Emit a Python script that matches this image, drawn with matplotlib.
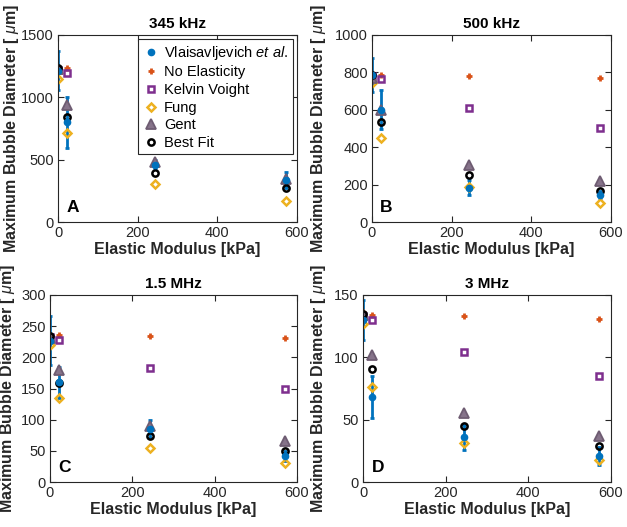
#!/usr/bin/env python3
import numpy as np
import matplotlib
matplotlib.use('Agg')
import matplotlib.pyplot as plt
from matplotlib.lines import Line2D

plt.rcParams['font.family'] = ['Liberation Sans', 'DejaVu Sans']
plt.rcParams['mathtext.fontset'] = 'custom'
plt.rcParams['mathtext.it'] = 'Liberation Sans:italic'
plt.rcParams['mathtext.rm'] = 'Liberation Sans'
plt.rcParams['mathtext.bf'] = 'Liberation Sans:bold'

# elastic modulus of the phantoms [kPa]
modulus = [1, 22, 244, 572]

titles = ['345 kHz', '500 kHz', '1.5 MHz', '3 MHz']
letters = ['A', 'B', 'C', 'D']
ylims = [1500, 1000, 300, 150]
ysteps = [500, 200, 50, 50]

# one row per frequency, one column per modulus
vlais = [[1215, 800, 460, 340], [785, 600, 183, 146], [227, 160, 85, 42], [130, 68, 36, 21]]
vlais_err = [[155, 205, 35, 65], [90, 105, 40, 20], [40, 25, 15, 8], [16, 17, 10, 7]]
no_elast = [[1230, 1234, np.nan, np.nan], [785, 787, 782, 772], [235, 236, 234, 231], [136, 134, 133, 131]]
kelvin = [[1220, 1199, np.nan, np.nan], [780, 765, 611, 503], [232, 228, 183, 150], [133, 130, 104, 85]]
fung = [[1150, 711, 301, 169], [743, 451, 189, 102], [220, 134, 55, 30], [127, 76, 31, 18]]
gent = [[1225, 939, 483, 343], [770, 598, 307, 219], [231, 180, 90, 66], [134, 102, 55, 37]]
best = [[1235, 840, 397, 269], [785, 535, 250, 167], [235, 159, 74, 50], [135, 91, 45, 29]]

# axes boxes in pixels: left, right, top, bottom (figure is 627 x 527)
boxes = [(58, 297, 35, 222), (372, 611, 35, 222), (50, 297, 295, 482), (363, 611, 295, 482)]
ylabel_x = [21, 328, 17, 328]

W, H = 627, 527
fig = plt.figure(figsize=(W / 100, H / 100), dpi=100)

blue = '#0072BD'
orange = '#D95319'
purple = '#7E2F8E'
yellow = '#EDB120'
gray = '#86738A'
axcol = '#262626'

for i in range(4):
    l, r, t, b = boxes[i]
    ax = fig.add_axes([l / W, 1 - b / H, (r - l) / W, (b - t) / H])

    ax.errorbar(modulus, vlais[i], yerr=vlais_err[i], fmt='o', color=blue, ms=4.5,
                elinewidth=2, capsize=1.5, capthick=2)
    h2, = ax.plot(modulus, no_elast[i], '+', color=orange, ms=5, mew=2)
    h3, = ax.plot(modulus, kelvin[i], 's', mfc='none', mec=purple, ms=4.3, mew=1.8)
    h4, = ax.plot(modulus, fung[i], 'D', mfc='none', mec=yellow, ms=4.3, mew=1.8)
    h5, = ax.plot(modulus, gent[i], '^', mfc=gray, mec='#6E5C72', ms=6.5, mew=1.3)
    h6, = ax.plot(modulus, best[i], 'o', mfc='none', mec='black', ms=4.5, mew=1.8)

    ax.set_xlim(0, 600)
    ax.set_ylim(0, ylims[i])
    ax.set_xticks([0, 200, 400, 600])
    ax.set_yticks(np.arange(0, ylims[i] + 1, ysteps[i]))
    ax.tick_params(direction='in', top=True, right=True, length=4, width=0.8,
                   labelsize=10.5, colors=axcol, pad=3)
    for s in ax.spines.values():
        s.set_color(axcol)
        s.set_linewidth(0.8)

    ax.set_title(titles[i], fontsize=11, fontweight='bold', pad=5)
    ax.set_xlabel('Elastic Modulus [kPa]', fontsize=11.5, fontweight='bold', labelpad=1, color=axcol)
    ax.set_ylabel('Maximum Bubble Diameter [ $\\mu$m]', fontsize=11.5, fontweight='bold', color=axcol)
    ax.yaxis.set_label_coords((ylabel_x[i] - l) / (r - l), 0.5)
    ax.text(0.035, 0.055, letters[i], transform=ax.transAxes, fontsize=12.5, fontweight='bold')

    if i == 0:
        h1 = Line2D([], [], ls='none', marker='o', color=blue, ms=4.5)
        leg = ax.legend([h1, h2, h3, h4, h5, h6],
                        ['Vlaisavljevich $\\it{et\\ al.}$', 'No Elasticity', 'Kelvin Voight',
                         'Fung', 'Gent', 'Best Fit'],
                        loc='upper right', fontsize=10.5, handletextpad=0.3, borderpad=0.3,
                        labelspacing=0.25, handlelength=1.2, fancybox=False, framealpha=1,
                        borderaxespad=0.3)
        leg.get_frame().set_edgecolor(axcol)
        leg.get_frame().set_linewidth(0.8)

fig.savefig('out.png', dpi=100)
